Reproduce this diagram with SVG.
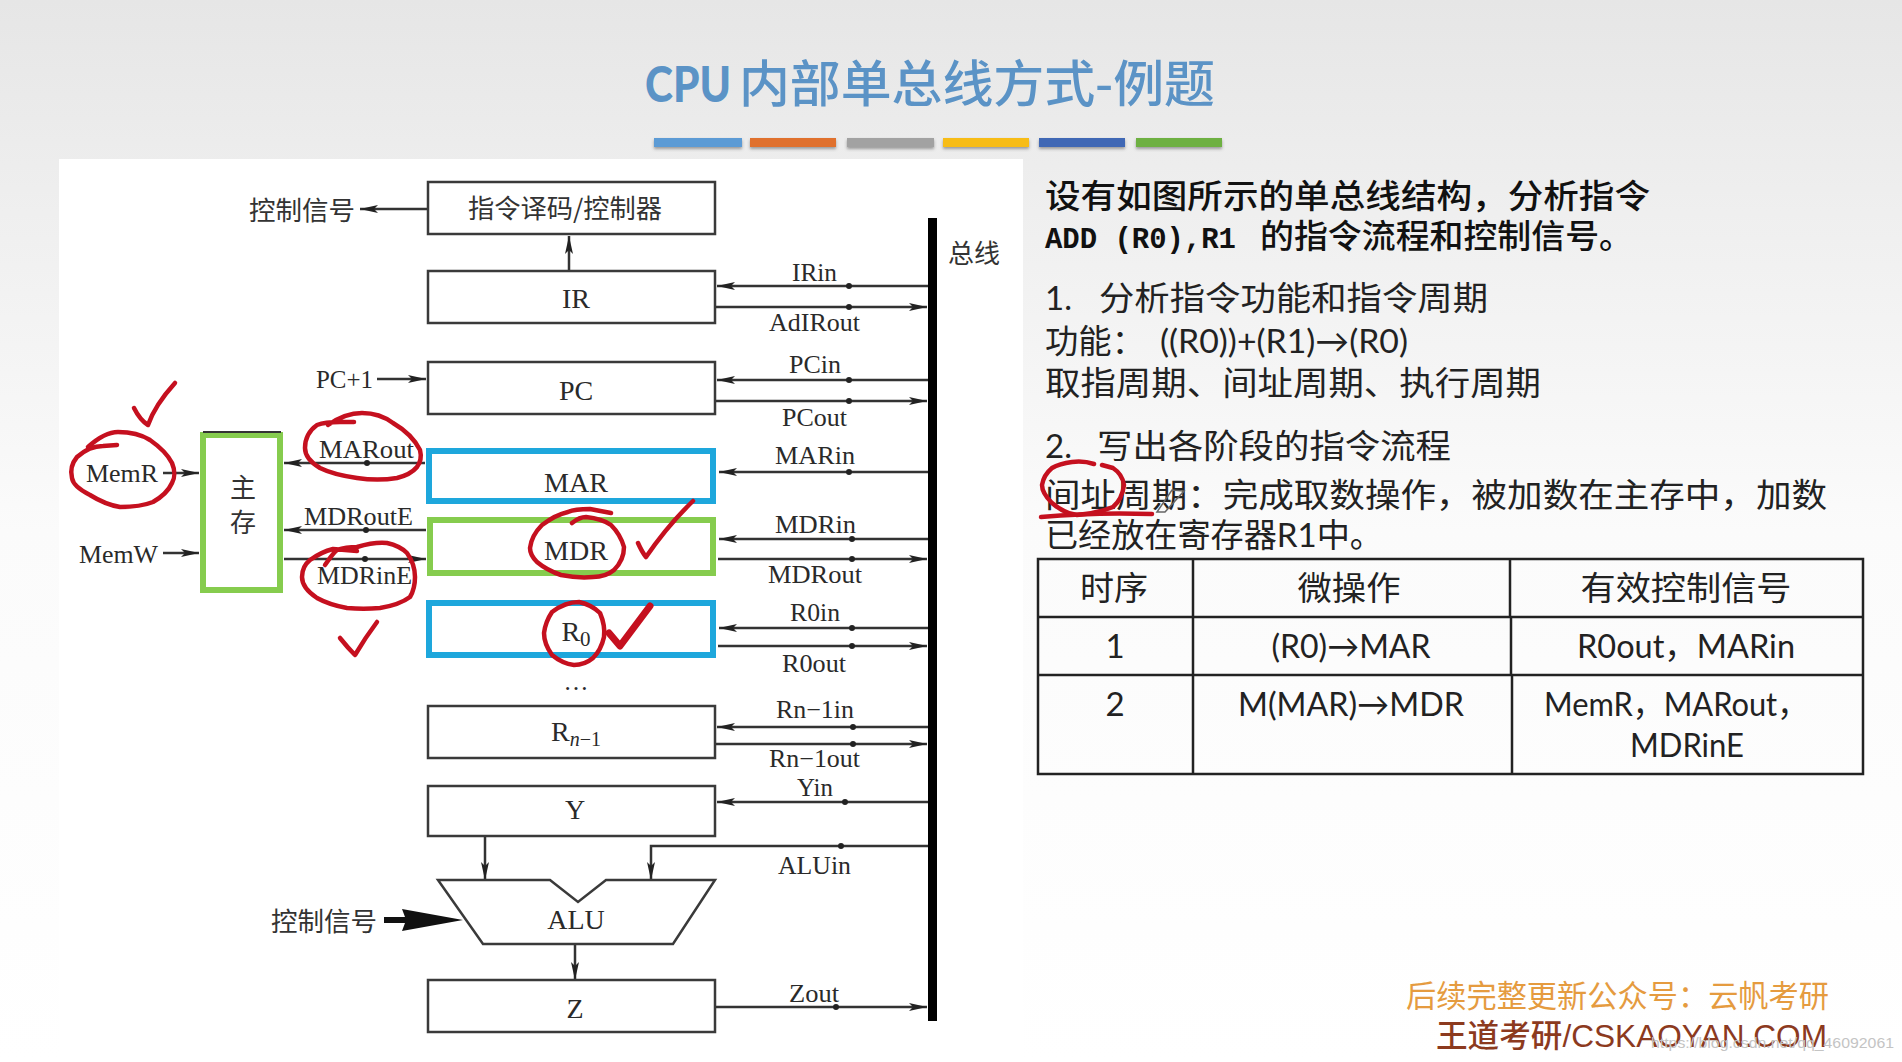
<svg xmlns="http://www.w3.org/2000/svg" width="1902" height="1062" viewBox="0 0 1902 1062">
<style>
.box{fill:#fff;stroke:#3a3a3a;stroke-width:2.5}
.blue{fill:#fff;stroke:#1ea7dc;stroke-width:6}
.green{fill:#fff;stroke:#86cc4e;stroke-width:6}
.wire{fill:none;stroke:#333;stroke-width:2.5}
.dot{fill:#222}
.en{font-family:"Liberation Serif","Times New Roman",serif;font-size:25px;fill:#2a2a2a}
.big{font-size:28px}
.zh{font-family:"Noto Sans CJK SC",sans-serif;font-size:26px;fill:#333}
.body{font-family:"Lato","Noto Sans CJK SC",sans-serif;font-size:33px;fill:#222}
.strong{font-weight:500;fill:#111}
.mono{font-family:"Liberation Mono",monospace;font-size:30px;font-weight:700;fill:#111}
.cell{text-anchor:middle}
.ink{fill:none;stroke:#c5101f;stroke-width:4.5;stroke-linecap:round;stroke-linejoin:round}
.grid{fill:none;stroke:#222;stroke-width:2.5}
.m{text-anchor:middle}
</style>
<defs>
<linearGradient id="bg" x1="0" y1="0" x2="0" y2="1">
<stop offset="0" stop-color="#e6e6e6"/><stop offset="0.2" stop-color="#efefef"/><stop offset="0.5" stop-color="#fbfbfb"/><stop offset="1" stop-color="#ffffff"/>
</linearGradient>
<filter id="sh" x="-5%" y="-30%" width="110%" height="180%"><feDropShadow dx="0" dy="2" stdDeviation="1.5" flood-color="#555" flood-opacity="0.55"/></filter>
<marker id="a" markerUnits="userSpaceOnUse" markerWidth="20" markerHeight="10" refX="18" refY="5" orient="auto"><path d="M0 1 L18 5 L0 9 L4 5Z" fill="#222"/></marker>
</defs>

<rect id="background" width="1902" height="1062" fill="url(#bg)"/>
<rect id="panel" x="59" y="159" width="964" height="903" fill="#fff"/>

<g id="title">
<text x="645" y="102" font-family="Lato,'Noto Sans CJK SC',sans-serif" font-size="50" fill="#5b93c6" font-weight="900" textLength="86" lengthAdjust="spacingAndGlyphs">CPU</text>
<text x="739" y="102" font-family="'Noto Sans CJK SC',sans-serif" font-size="50" font-weight="500" fill="#5b93c6" textLength="476" lengthAdjust="spacingAndGlyphs">内部单总线方式-例题</text>
</g>
<g id="colorbars" filter="url(#sh)">
<rect x="654" y="138" width="88" height="9" fill="#5b9bd5"/>
<rect x="750" y="138" width="86" height="9" fill="#e0712f"/>
<rect x="847" y="138" width="87" height="9" fill="#a2a2a2"/>
<rect x="943" y="138" width="86" height="9" fill="#f7bc12"/>
<rect x="1039" y="138" width="86" height="9" fill="#4068b5"/>
<rect x="1136" y="138" width="86" height="9" fill="#6eb043"/>
</g>

<g id="connectors">
<rect id="bus" x="928" y="218" width="9" height="803" fill="#000"/>
<path class="wire" d="M428 209H360" marker-end="url(#a)"/>
<path class="wire" d="M569 271V236" marker-end="url(#a)"/>
<path class="wire" d="M377 379H426" marker-end="url(#a)"/>
<path class="wire" d="M928 286H717" marker-end="url(#a)"/>
<path class="wire" d="M716 307H927" marker-end="url(#a)"/>
<path class="wire" d="M928 380H717" marker-end="url(#a)"/>
<path class="wire" d="M716 401H927" marker-end="url(#a)"/>
<path class="wire" d="M928 472H719" marker-end="url(#a)"/>
<path class="wire" d="M928 539H719" marker-end="url(#a)"/>
<path class="wire" d="M718 559H927" marker-end="url(#a)"/>
<path class="wire" d="M928 628H719" marker-end="url(#a)"/>
<path class="wire" d="M718 646H927" marker-end="url(#a)"/>
<path class="wire" d="M928 727H717" marker-end="url(#a)"/>
<path class="wire" d="M716 744H927" marker-end="url(#a)"/>
<path class="wire" d="M928 802H717" marker-end="url(#a)"/>
<path class="wire" d="M928 846H651V880" marker-end="url(#a)"/>
<path class="wire" d="M485 836V880" marker-end="url(#a)"/>
<path class="wire" d="M575 944V980" marker-end="url(#a)"/>
<path class="wire" d="M716 1007H927" marker-end="url(#a)"/>
<path class="wire" d="M163 473H199" marker-end="url(#a)"/>
<path class="wire" d="M163 553H199" marker-end="url(#a)"/>
<path class="wire" d="M425 463H284" marker-end="url(#a)"/>
<path class="wire" d="M426 530H284" marker-end="url(#a)"/>
<path class="wire" d="M284 559H426" marker-end="url(#a)"/>
<path d="M384 917H405L402 909L463 920L402 931L405 923H384Z" fill="#111"/>
<g class="dot">
<circle cx="849" cy="286" r="3"/><circle cx="849" cy="307" r="3"/><circle cx="849" cy="380" r="3"/><circle cx="849" cy="401" r="3"/><circle cx="849" cy="472" r="3"/>
<circle cx="852" cy="539" r="3"/><circle cx="852" cy="559" r="3"/><circle cx="852" cy="628" r="3"/><circle cx="852" cy="646" r="3"/><circle cx="853" cy="727" r="3"/><circle cx="853" cy="744" r="3"/>
<circle cx="845" cy="802" r="3"/><circle cx="841" cy="846" r="3"/><circle cx="836" cy="1007" r="3"/>
<circle cx="367" cy="463" r="3"/><circle cx="366" cy="530" r="3"/><circle cx="365" cy="559" r="3"/>
</g>
</g>

<g id="node-controller"><rect class="box" x="428" y="182" width="287" height="52"/><text class="zh m" x="565" y="218" font-size="27" textLength="194" lengthAdjust="spacingAndGlyphs">指令译码/控制器</text></g>
<g id="node-ir"><rect class="box" x="428" y="271" width="287" height="52"/><text class="en big m" x="576" y="308">IR</text></g>
<g id="node-pc"><rect class="box" x="428" y="362" width="287" height="52"/><text class="en big m" x="576" y="400">PC</text></g>
<g id="node-mar"><rect class="blue" x="429" y="451" width="284" height="50"/><text class="en big m" x="576" y="492">MAR</text></g>
<g id="node-mdr"><rect class="green" x="430" y="520" width="283" height="53"/><text class="en big m" x="576" y="560">MDR</text></g>
<g id="node-r0"><rect class="blue" x="429" y="603" width="284" height="52"/><text class="en big m" x="576" y="641">R<tspan font-size="21" dy="5">0</tspan></text></g>
<g id="node-ellipsis"><text class="en m" x="576" y="690">…</text></g>
<g id="node-rn1"><rect class="box" x="428" y="706" width="287" height="52"/><text class="en big m" x="576" y="741">R<tspan font-size="20" font-style="italic" dy="5">n</tspan><tspan font-size="20" dy="0">−1</tspan></text></g>
<g id="node-y"><rect class="box" x="428" y="786" width="287" height="50"/><text class="en big m" x="575" y="819">Y</text></g>
<g id="node-alu"><path class="box" d="M438 880H550L578 902L606 880H715L673 944H483Z"/><text class="en big m" x="576" y="929">ALU</text></g>
<g id="node-z"><rect class="box" x="428" y="980" width="287" height="52"/><text class="en big m" x="575" y="1018">Z</text></g>
<g id="node-memory"><rect class="green" x="203" y="435" width="77" height="155"/><path d="M203 432H281" stroke="#333" stroke-width="2" fill="none"/><text class="zh m" x="243" y="497" style="font-size:26px">主</text><text class="zh m" x="243" y="532" style="font-size:26px">存</text></g>

<g id="labels">
<text class="zh" x="249" y="220" textLength="106" lengthAdjust="spacingAndGlyphs">控制信号</text>
<text class="zh" x="271" y="931" textLength="106" lengthAdjust="spacingAndGlyphs">控制信号</text>
<text class="zh" x="948" y="263" textLength="52" lengthAdjust="spacingAndGlyphs">总线</text>
<text class="en" x="316" y="388" textLength="57" lengthAdjust="spacingAndGlyphs">PC+1</text>
<text class="en" x="86" y="482" textLength="72" lengthAdjust="spacingAndGlyphs">MemR</text>
<text class="en" x="79" y="563" textLength="79" lengthAdjust="spacingAndGlyphs">MemW</text>
<text class="en" x="319" y="458" textLength="95" lengthAdjust="spacingAndGlyphs">MARout</text>
<text class="en" x="304" y="525" textLength="109" lengthAdjust="spacingAndGlyphs">MDRoutE</text>
<text class="en" x="317" y="584" textLength="95" lengthAdjust="spacingAndGlyphs">MDRinE</text>
<text class="en" x="792" y="281" textLength="45" lengthAdjust="spacingAndGlyphs">IRin</text>
<text class="en" x="769" y="331" textLength="91" lengthAdjust="spacingAndGlyphs">AdIRout</text>
<text class="en" x="789" y="373" textLength="52" lengthAdjust="spacingAndGlyphs">PCin</text>
<text class="en" x="782" y="426" textLength="65" lengthAdjust="spacingAndGlyphs">PCout</text>
<text class="en" x="775" y="464" textLength="80" lengthAdjust="spacingAndGlyphs">MARin</text>
<text class="en" x="775" y="533" textLength="81" lengthAdjust="spacingAndGlyphs">MDRin</text>
<text class="en" x="768" y="583" textLength="94" lengthAdjust="spacingAndGlyphs">MDRout</text>
<text class="en" x="790" y="621" textLength="50" lengthAdjust="spacingAndGlyphs">R0in</text>
<text class="en" x="782" y="672" textLength="64" lengthAdjust="spacingAndGlyphs">R0out</text>
<text class="en" x="776" y="718" textLength="78" lengthAdjust="spacingAndGlyphs">Rn−1in</text>
<text class="en" x="769" y="767" textLength="91" lengthAdjust="spacingAndGlyphs">Rn−1out</text>
<text class="en" x="797" y="796" textLength="36" lengthAdjust="spacingAndGlyphs">Yin</text>
<text class="en" x="778" y="874" textLength="73" lengthAdjust="spacingAndGlyphs">ALUin</text>
<text class="en" x="789" y="1002" textLength="50" lengthAdjust="spacingAndGlyphs">Zout</text>
</g>

<g id="description">
<text class="body strong" x="1045" y="208" textLength="605" lengthAdjust="spacingAndGlyphs">设有如图所示的单总线结构&#xFF0C;分析指令</text>
<text class="mono" x="1045" y="248" textLength="191" lengthAdjust="spacingAndGlyphs">ADD (R0),R1</text>
<text class="body strong" x="1260" y="248" textLength="373" lengthAdjust="spacingAndGlyphs">的指令流程和控制信号。</text>
<text class="body" x="1045" y="310">1.</text>
<text class="body" x="1099" y="310" textLength="389" lengthAdjust="spacingAndGlyphs">分析指令功能和指令周期</text>
<text class="body" x="1045" y="353" textLength="100" lengthAdjust="spacingAndGlyphs">功能&#xFF1A;</text>
<text class="body" x="1160" y="353" textLength="248" lengthAdjust="spacingAndGlyphs">((R0))+(R1)→(R0)</text>
<text class="body" x="1045" y="395" textLength="496" lengthAdjust="spacingAndGlyphs">取指周期、间址周期、执行周期</text>
<text class="body" x="1045" y="458">2.</text>
<text class="body" x="1097" y="458" textLength="354" lengthAdjust="spacingAndGlyphs">写出各阶段的指令流程</text>
<text class="body" x="1045" y="507" textLength="782" lengthAdjust="spacingAndGlyphs">间址周期&#xFF1A;完成取数操作&#xFF0C;被加数在主存中&#xFF0C;加数</text>
<text class="body" x="1045" y="547" textLength="338" lengthAdjust="spacingAndGlyphs">已经放在寄存器R1中。</text>
</g>

<g id="table">
<path class="grid" d="M1038 559H1863V774H1038ZM1038 617H1863M1038 675H1863M1193 559V774M1510 559V617M1511 617V675M1512 675V774"/>
<text class="body cell" x="1114" y="600" textLength="68" lengthAdjust="spacingAndGlyphs">时序</text>
<text class="body cell" x="1349" y="600" textLength="103" lengthAdjust="spacingAndGlyphs">微操作</text>
<text class="body cell" x="1686" y="600" textLength="211" lengthAdjust="spacingAndGlyphs">有效控制信号</text>
<text class="body cell" x="1115" y="658">1</text>
<text class="body cell" x="1351" y="658" textLength="159" lengthAdjust="spacingAndGlyphs">(R0)→MAR</text>
<text class="body cell" x="1686" y="658" textLength="218" lengthAdjust="spacingAndGlyphs">R0out&#xFF0C;MARin</text>
<text class="body cell" x="1115" y="716">2</text>
<text class="body cell" x="1351" y="716" textLength="226" lengthAdjust="spacingAndGlyphs">M(MAR)→MDR</text>
<text class="body cell" x="1676" y="716" textLength="264" lengthAdjust="spacingAndGlyphs">MemR&#xFF0C;MARout&#xFF0C;</text>
<text class="body cell" x="1687" y="757" textLength="114" lengthAdjust="spacingAndGlyphs">MDRinE</text>
</g>

<g id="footer">
<text x="1406" y="1007" font-family="'Noto Sans CJK SC',sans-serif" font-size="31" fill="#e59b3f" textLength="423" lengthAdjust="spacingAndGlyphs">后续完整更新公众号&#xFF1A;云帆考研</text>
<text x="1436" y="1047" font-family="'Liberation Sans','Noto Sans CJK SC',sans-serif" font-size="32" fill="#8c3a1e" font-weight="500" textLength="391" lengthAdjust="spacingAndGlyphs">王道考研/CSKAOYAN.COM</text>
<text x="1651" y="1048" font-family="'Liberation Sans',sans-serif" font-size="15" fill="#c4c4c4" textLength="243" lengthAdjust="spacingAndGlyphs">https://blog.csdn.net/qq_46092061</text>
</g>

<g id="annotations">
<path class="ink" d="M88 447C98 438 108 432 118 432C132 432 142 435 150 440C160 447 168 455 172 463C175 470 175 478 172 483C168 492 160 498 153 502C143 506 132 507 120 507C108 505 98 500 90 495C80 490 73 485 72 478C70 470 72 463 77 457C85 450 95 446 103 446L117 445"/>
<path class="ink" d="M134 408Q140 420 148 425Q155 405 175 383"/>
<path class="ink" d="M328 425C338 418 350 413 362 413C375 413 385 417 393 423C405 430 415 440 420 450C422 458 420 463 417 467C412 473 405 476 397 478C385 480 370 480 357 478C343 476 330 473 320 468C310 462 305 455 305 448C305 438 310 430 317 425C325 422 333 422 340 422L354 422"/>
<path class="ink" d="M325 565C330 558 333 553 337 550C343 548 350 547 357 547C367 544 377 542 387 543C396 545 402 548 407 553C412 560 415 568 415 577C415 585 413 592 410 597C402 603 392 606 380 608C369 609 358 609 347 608C336 606 326 603 317 598C308 592 302 585 302 577C302 570 305 564 310 560C317 555 325 551 333 549L357 551"/>
<path class="ink" d="M340 638Q348 648 355 655Q365 638 377 622"/>
<path class="ink" d="M572 523C577 519 581 517 586 517C596 518 604 520 611 525C618 532 622 540 624 547C624 556 620 564 614 570C608 575 600 577 593 577C582 578 571 577 561 575C552 572 543 567 537 562C532 557 530 552 530 548C531 539 536 531 542 525C550 519 559 514 568 512C575 509 583 509 590 509L611 513"/>
<path class="ink" d="M638 543Q642 552 646 557Q668 525 693 501"/>
<path class="ink" d="M579 602C588 604 595 608 600 613C603 620 605 629 604 637C602 646 598 653 593 658C587 663 580 665 574 665C566 664 558 660 552 655C547 648 544 640 544 633C545 625 548 618 552 612C560 606 570 602 579 602Z"/>
<path class="ink" style="stroke-width:7" d="M609 633L620 646L650 606"/>
<path class="ink" d="M1094 464C1088 462 1080 461 1072 462C1064 463 1057 465 1052 468C1046 473 1043 479 1042 485C1042 492 1047 498 1052 503C1059 509 1068 514 1077 515C1090 514 1103 511 1113 507C1120 501 1123 493 1124 485C1123 478 1119 472 1113 468L1102 465"/>
<path class="ink" d="M1041 517Q1095 512 1152 514"/>
<path d="M1157 512L1172 490L1184 491L1165 512Z" fill="none" stroke="#666" stroke-width="1.5"/>
</g>
</svg>
